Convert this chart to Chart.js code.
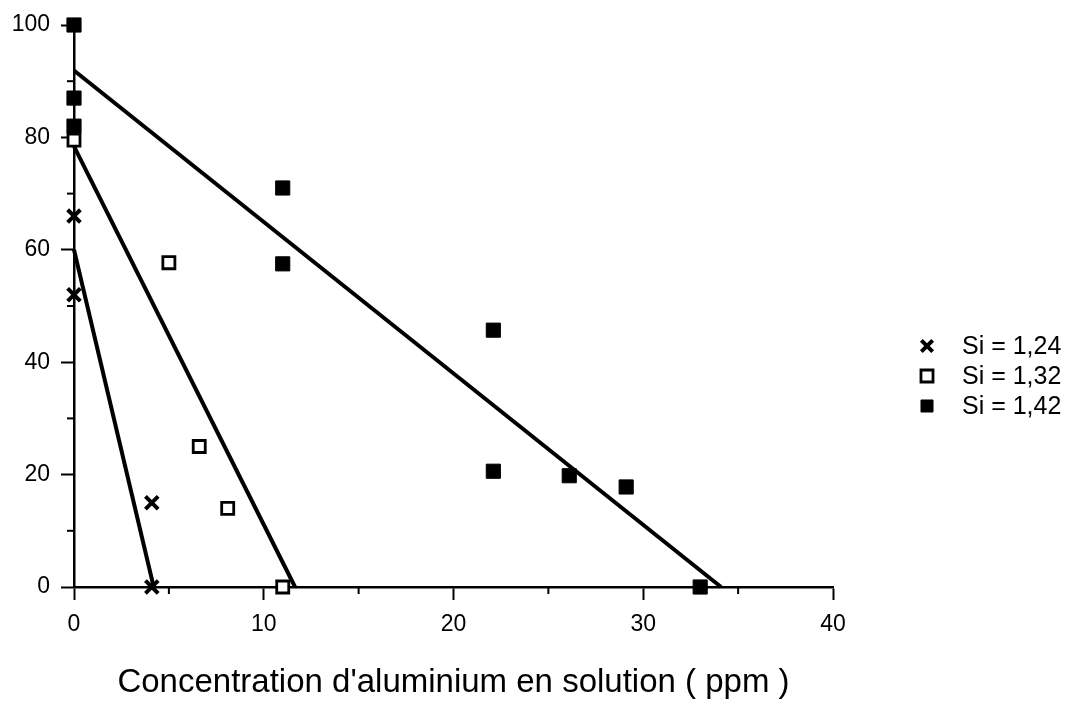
<!DOCTYPE html>
<html>
<head>
<meta charset="utf-8">
<script src="https://cdn.jsdelivr.net/npm/chart.js@4.4.1/dist/chart.umd.min.js"></script>
<style>
  body { margin: 0; background: #fff; }
  #wrap { width: 1069px; height: 704px; position: relative; }
</style>
</head>
<body>
<div id="wrap"><canvas id="myChart"></canvas></div>
<script>
// data
var seriesNames = ['Si = 1,24', 'Si = 1,32', 'Si = 1,42'];

var si124X = [0, 0, 4.1, 4.1];
var si124Y = [66, 52, 15, 0];

var si132X = [0, 5.0, 6.6, 8.1, 11.0];
var si132Y = [79.5, 57.7, 25, 14, 0];

var si142X = [0, 0, 0, 11.0, 11.0, 22.1, 22.1, 26.1, 29.1, 33.0];
var si142Y = [100, 87, 82, 71, 57.5, 45.7, 20.6, 19.8, 17.8, 0];

// fitted lines (end points)
var fit124X = [0, 4.2];
var fit124Y = [60, 0];
var fit132X = [0, 11.65];
var fit132Y = [78.4, 0];
var fit142X = [0, 34.1];
var fit142Y = [91.9, 0];

var xTicks = [0, 10, 20, 30, 40];
var yTicks = [0, 20, 40, 60, 80, 100];
var xMinor = [5, 15, 25, 35];
var yMinor = [10, 30, 50, 70, 90];

function pts(xs, ys) {
    return xs.map(function (x, i) { return { x: x, y: ys[i] }; });
}

var FONT = "'Liberation Sans', Arial, Helvetica, sans-serif";

var markers = [
    { style: 'crossRot', radius: 9, bg: '#000', border: '#000', bw: 4 },
    { style: 'rect', radius: 8.5, bg: '#fff', border: '#000', bw: 2.8 },
    { style: 'rect', radius: 10, bg: '#000', border: '#000', bw: 1 }
];

function scatterSet(i, data) {
    var m = markers[i];
    return {
        type: 'scatter',
        label: seriesNames[i],
        data: data,
        pointStyle: m.style,
        pointRadius: m.radius,
        pointBackgroundColor: m.bg,
        pointBorderColor: m.border,
        pointBorderWidth: m.bw,
        showLine: false,
        clip: false,
        order: 1
    };
}

function lineSet(data) {
    return {
        type: 'line',
        label: '',
        data: data,
        borderColor: '#000',
        borderWidth: 4,
        pointRadius: 0,
        showLine: true,
        fill: false,
        clip: false,
        order: 2
    };
}

// short minor ticks + manual legend
var extras = {
    id: 'extras',
    afterDraw: function (chart) {
        var c = chart.ctx, xs = chart.scales.x, ys = chart.scales.y;
        var area = chart.chartArea;
        c.save();
        c.strokeStyle = '#000';
        c.lineWidth = 2;
        xMinor.forEach(function (v) {
            var px = xs.getPixelForValue(v);
            c.beginPath(); c.moveTo(px, area.bottom); c.lineTo(px, area.bottom + 7); c.stroke();
        });
        yMinor.forEach(function (v) {
            var py = ys.getPixelForValue(v);
            c.beginPath(); c.moveTo(area.left, py); c.lineTo(area.left - 7, py); c.stroke();
        });

        c.font = '25px ' + FONT;
        c.textBaseline = 'middle';
        c.textAlign = 'left';
        var rowY = [346, 376, 406];
        markers.forEach(function (m, i) {
            c.fillStyle = m.bg;
            c.strokeStyle = m.border;
            c.lineWidth = m.bw;
            Chart.helpers.drawPoint(c, { pointStyle: m.style, radius: m.style == 'crossRot' ? 8 : 8.5, rotation: 0, borderWidth: m.bw }, 927, rowY[i]);
            c.fillStyle = '#000';
            c.fillText(seriesNames[i], 962, rowY[i] + 1);
        });
        c.restore();
    }
};

var ctx = document.getElementById('myChart').getContext('2d');
var chart = new Chart(ctx, {
    type: 'scatter',
    data: {
        datasets: [
            lineSet(pts(fit124X, fit124Y)),
            lineSet(pts(fit132X, fit132Y)),
            lineSet(pts(fit142X, fit142Y)),
            scatterSet(0, pts(si124X, si124Y)),
            scatterSet(1, pts(si132X, si132Y)),
            scatterSet(2, pts(si142X, si142Y))
        ]
    },
    options: {
        responsive: true,
        maintainAspectRatio: false,
        animation: false,
        layout: { padding: { top: 25, right: 236, left: 0, bottom: 0 } },
        plugins: {
            legend: { display: false },
            tooltip: { enabled: false }
        },
        scales: {
            x: {
                type: 'linear',
                min: 0, max: 40,
                afterFit: function (s) { s.height = 117; },
                afterBuildTicks: function (s) { s.ticks = xTicks.map(function (v) { return { value: v }; }); },
                ticks: { color: '#000', font: { family: FONT, size: 23 }, padding: 11 },
                grid: { drawOnChartArea: false, drawTicks: true, tickLength: 13, tickWidth: 2, tickColor: '#000' },
                border: { display: true, color: '#000', width: 2.5 },
                title: {
                    display: true,
                    text: "Concentration d'aluminium en solution ( ppm )",
                    color: '#000',
                    font: { family: FONT, size: 33 },
                    padding: { top: 0, bottom: 1 }
                }
            },
            y: {
                type: 'linear',
                min: 0, max: 100,
                afterFit: function (s) { s.width = 74; },
                afterBuildTicks: function (s) { s.ticks = yTicks.map(function (v) { return { value: v }; }); },
                ticks: { color: '#000', font: { family: FONT, size: 23 }, padding: 11 },
                grid: { drawOnChartArea: false, drawTicks: true, tickLength: 13, tickWidth: 2, tickColor: '#000' },
                border: { display: true, color: '#000', width: 2.5 }
            }
        }
    },
    plugins: [extras]
});
</script>
</body>
</html>
